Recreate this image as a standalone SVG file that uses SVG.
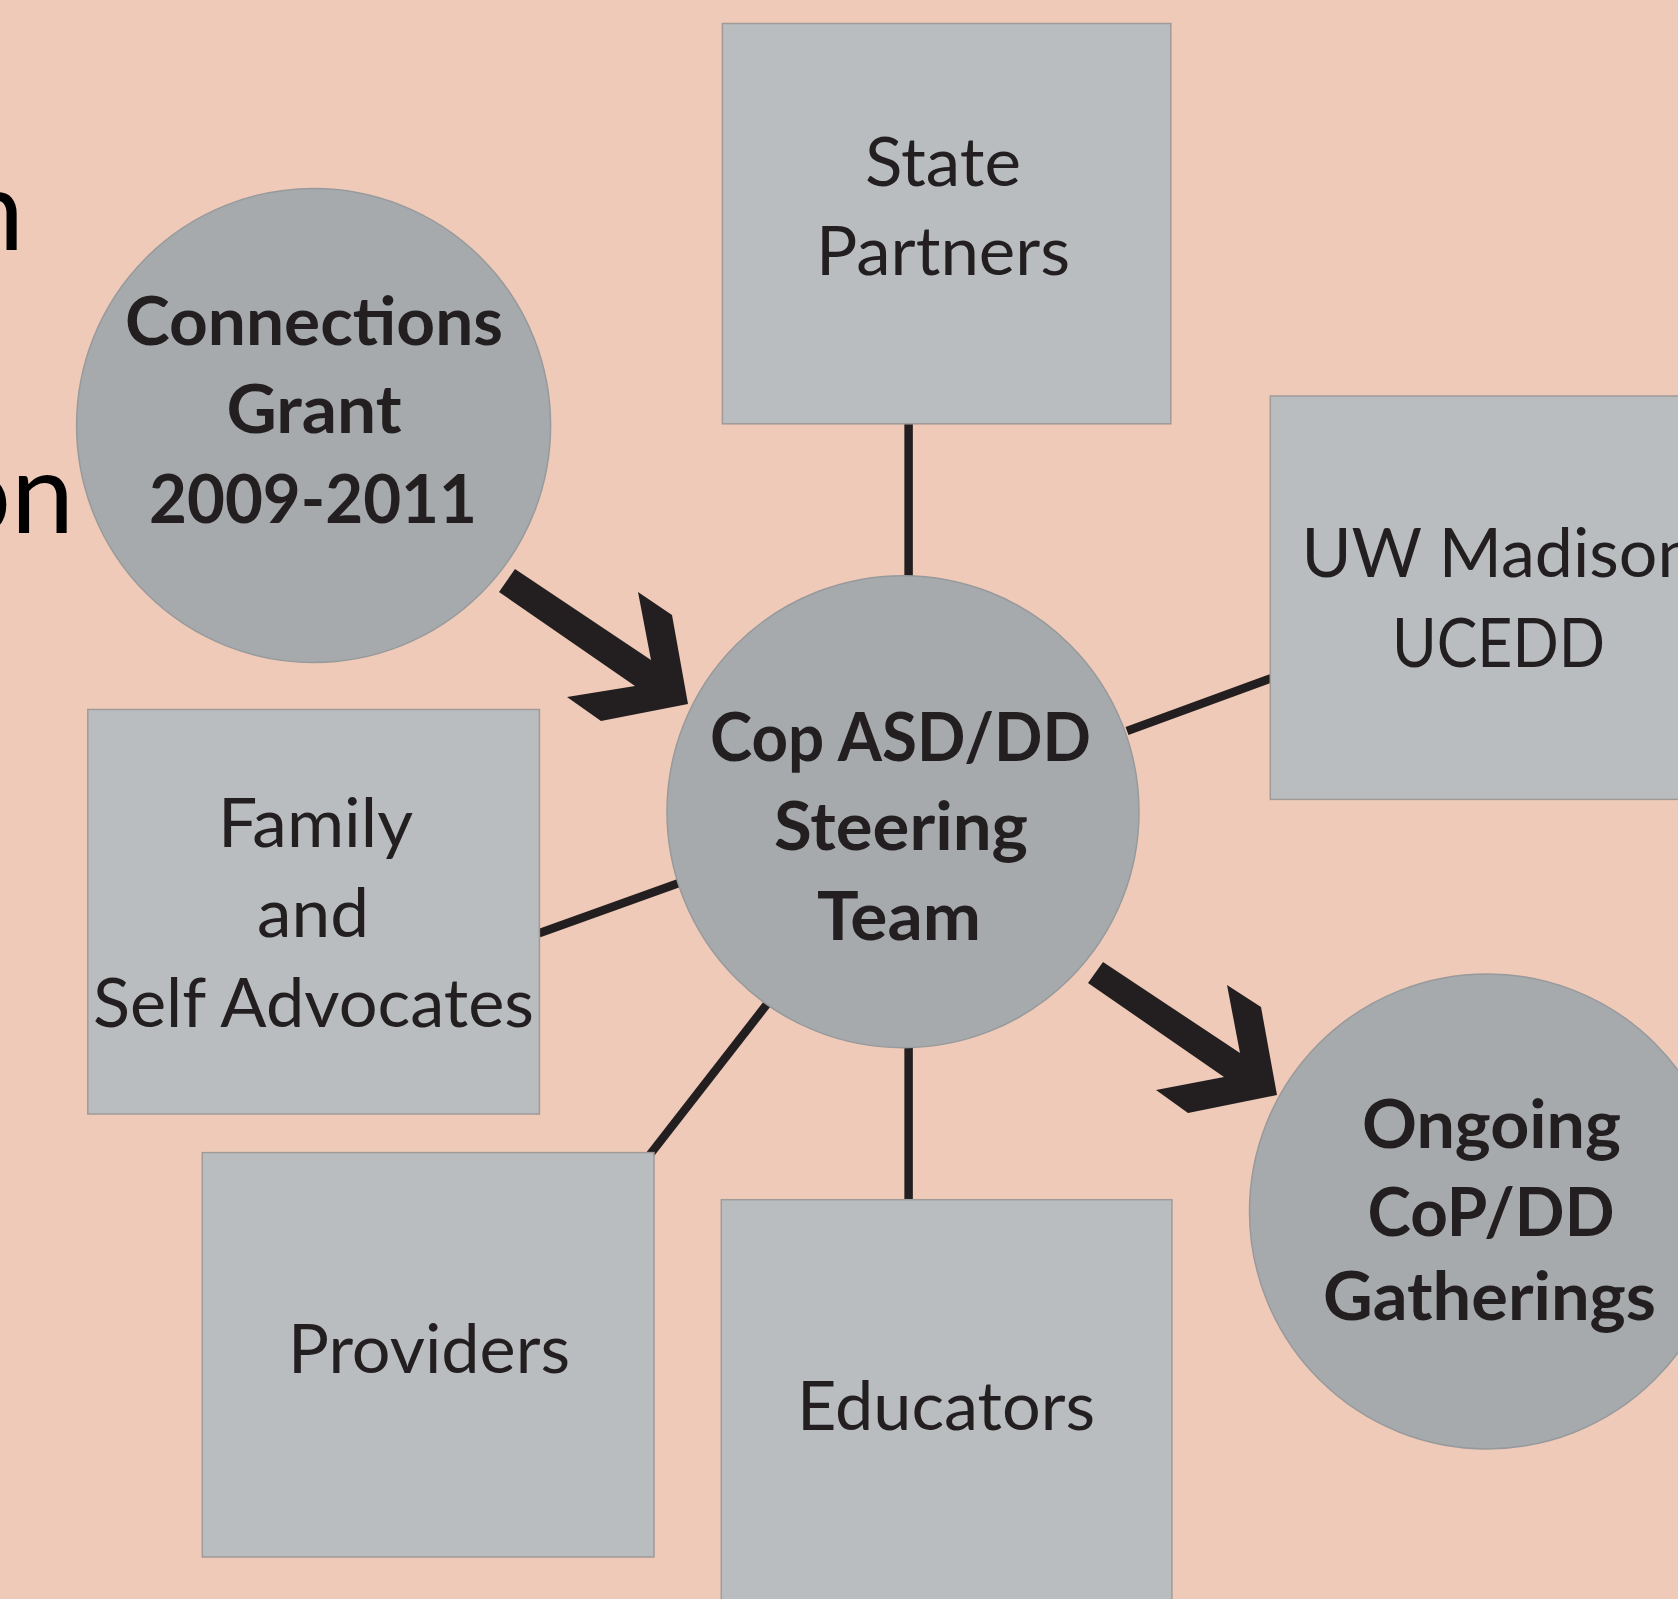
<svg xmlns="http://www.w3.org/2000/svg" width="1678" height="1599" viewBox="0 0 1678 1599">
<style>
.box{fill:#BABDC0;stroke:#A09A98;stroke-width:1.5}
.circ{fill:#A7AAAD;stroke:#979A9C;stroke-width:1.5}
.t{font-family:Lato,"Open Sans","Liberation Sans",sans-serif;font-size:67px;fill:#231F20;text-anchor:middle}
.b{font-weight:bold;font-size:67px}
.frag{font-family:Lato,"Open Sans","Liberation Sans",sans-serif;font-size:113px;fill:#000;text-anchor:end}
.ln{stroke:#231F20;stroke-width:8.5;fill:none}
.arr{fill:#231F20}
</style>
<rect x="0" y="0" width="1678" height="1599" fill="#EFCAB8"/>
<text class="frag" x="24" y="250">n</text>
<text class="frag" x="74" y="533">on</text>
<g id="connectors">
<line class="ln" x1="908.6" y1="423.8" x2="908.6" y2="577"/>
<line class="ln" x1="908.6" y1="1046" x2="908.6" y2="1200"/>
<line class="ln" x1="1127" y1="731" x2="1271" y2="678.3"/>
<line class="ln" x1="539" y1="933.3" x2="679" y2="883"/>
<line class="ln" x1="649.6" y1="1155" x2="767.5" y2="1003.5"/>
<polygon class="arr" points="515,569 651,660 638,592 672,615 688,704 601,721 567,697 635,686 499,592"/>
<polygon class="arr" points="1103,962 1240,1053 1227,985 1261,1007 1277,1095 1188,1113 1156,1090 1224,1077 1088,983"/>
</g>
<g id="state-partners">
<rect class="box" x="722.4" y="23.5" width="448.4" height="400.3"/>
<text class="t" x="943" y="186" textLength="156" lengthAdjust="spacingAndGlyphs">State</text>
<text class="t" x="943" y="275" textLength="254" lengthAdjust="spacingAndGlyphs">Partners</text>
</g>
<g id="uw-madison">
<rect class="box" x="1270.3" y="396" width="449" height="403.4"/>
<text class="t" x="1498.5" y="577" textLength="394" lengthAdjust="spacingAndGlyphs">UW Madison</text>
<text class="t" x="1498.5" y="667" textLength="213" lengthAdjust="spacingAndGlyphs">UCEDD</text>
</g>
<g id="family">
<rect class="box" x="87.8" y="709.5" width="451.6" height="404.5"/>
<text class="t" x="315.5" y="847" textLength="195" lengthAdjust="spacingAndGlyphs">Family</text>
<text class="t" x="313" y="937" textLength="112" lengthAdjust="spacingAndGlyphs">and</text>
<text class="t" x="313.5" y="1027" textLength="441" lengthAdjust="spacingAndGlyphs">Self Advocates</text>
</g>
<g id="providers">
<rect class="box" x="202.3" y="1152.6" width="451.7" height="404.4"/>
<text class="t" x="429" y="1373" textLength="282" lengthAdjust="spacingAndGlyphs">Providers</text>
</g>
<g id="educators">
<rect class="box" x="721.3" y="1199.7" width="450.6" height="410"/>
<text class="t" x="946" y="1430" textLength="298" lengthAdjust="spacingAndGlyphs">Educators</text>
</g>
<g id="connections-grant">
<circle class="circ" cx="313.6" cy="425.5" r="237"/>
<text class="t b" x="314" y="345" textLength="378" lengthAdjust="spacingAndGlyphs">Connections</text>
<text class="t b" x="314" y="433" textLength="175" lengthAdjust="spacingAndGlyphs">Grant</text>
<text class="t b" x="313" y="523" textLength="328" lengthAdjust="spacingAndGlyphs">2009-2011</text>
</g>
<g id="steering-team">
<circle class="circ" cx="903" cy="811.7" r="236"/>
<text class="t b" x="900.5" y="761" textLength="381" lengthAdjust="spacingAndGlyphs">Cop ASD/DD</text>
<text class="t b" x="901" y="850" textLength="254" lengthAdjust="spacingAndGlyphs">Steering</text>
<text class="t b" x="899" y="940" textLength="164" lengthAdjust="spacingAndGlyphs">Team</text>
</g>
<g id="ongoing-gatherings">
<circle class="circ" cx="1487" cy="1211.4" r="237.5"/>
<text class="t b" x="1491.5" y="1148" textLength="259" lengthAdjust="spacingAndGlyphs">Ongoing</text>
<text class="t b" x="1491" y="1236" textLength="247" lengthAdjust="spacingAndGlyphs">CoP/DD</text>
<text class="t b" x="1489.5" y="1320" textLength="333" lengthAdjust="spacingAndGlyphs">Gatherings</text>
</g>
</svg>
